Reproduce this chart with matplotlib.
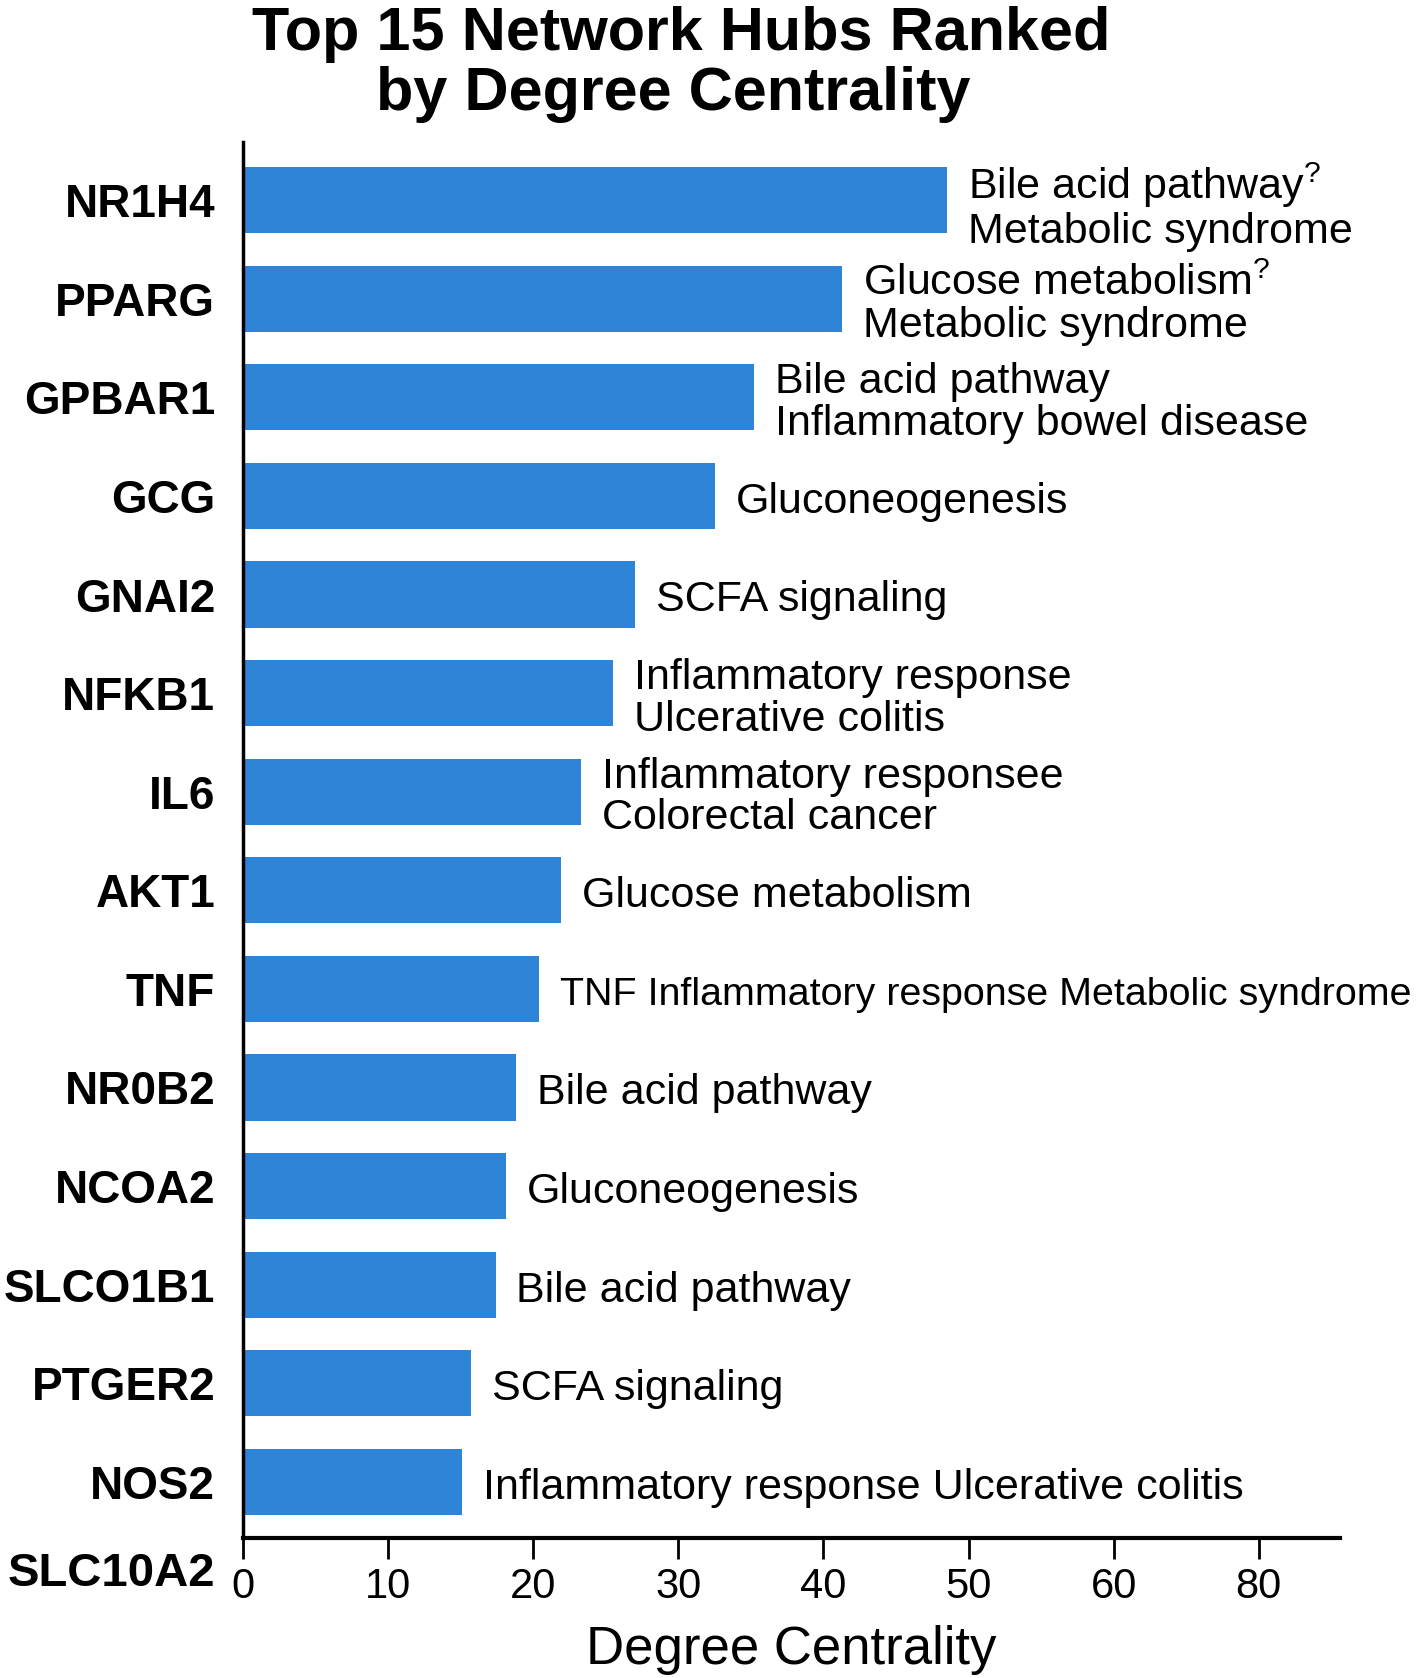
import matplotlib.pyplot as plt
from matplotlib import transforms

plt.rcParams['font.family'] = ['Liberation Sans', 'DejaVu Sans']

genes = ['NR1H4', 'PPARG', 'GPBAR1', 'GCG', 'GNAI2', 'NFKB1', 'IL6', 'AKT1',
         'TNF', 'NR0B2', 'NCOA2', 'SLCO1B1', 'PTGER2', 'NOS2', 'SLC10A2']
degree = [48.5, 41.3, 35.2, 32.5, 27.0, 25.5, 23.3, 21.9,
          20.4, 18.8, 18.1, 17.4, 15.7, 15.1]
notes = ['Bile acid pathway$^{\\mathregular{?}}$\nMetabolic syndrome',
         'Glucose metabolism$^{\\mathregular{?}}$\nMetabolic syndrome',
         'Bile acid pathway\nInflammatory bowel disease',
         'Gluconeogenesis',
         'SCFA signaling',
         'Inflammatory response\nUlcerative colitis',
         'Inflammatory responsee\nColorectal cancer',
         'Glucose metabolism',
         'TNF Inflammatory response Metabolic syndrome',
         'Bile acid pathway',
         'Gluconeogenesis',
         'Bile acid pathway',
         'SCFA signaling',
         'Inflammatory response Ulcerative colitis']
tick_pos = [0, 10, 20, 30, 40, 50, 60, 70]
tick_lab = ['0', '10', '20', '30', '40', '50', '60', '80']

fig = plt.figure(figsize=(14.17, 16.78), dpi=100)
ax = fig.add_axes([0.1715, 0.0834, 0.7742, 0.832])

ypos = list(range(len(degree)))
ax.barh(ypos, degree, height=0.67, color='#2e84d6')

for y, v, t in zip(ypos, degree, notes):
    fs = 28.4 if t.startswith('TNF') else 31
    ax.annotate(t, (v, y + 0.06), xytext=(15, 0), textcoords='offset points',
                va='center', ha='left', fontsize=fs, linespacing=1.05,
                annotation_clip=False)

ax.set_yticks(ypos)
ax.set_yticklabels(genes[:-1], fontsize=33, fontweight='bold')
ax.tick_params(axis='y', length=0, pad=20)
# last gene sits on the row of the x tick labels, without a bar
trans = transforms.blended_transform_factory(ax.transAxes, ax.transData)
ax.text(-0.025, 13.93, genes[-1], transform=trans, ha='right', va='center',
        fontsize=34, fontweight='bold')

ax.set_xticks(tick_pos)
ax.set_xticklabels(tick_lab, fontsize=30)
ax.tick_params(axis='x', length=15, width=2, pad=6)
ax.set_xlim(0, 75.6)
ax.set_ylim(13.57, -0.59)

for s in ['top', 'right']:
    ax.spines[s].set_visible(False)
ax.spines['left'].set_linewidth(2.5)
ax.spines['bottom'].set_linewidth(3)

ax.set_xlabel('Degree Centrality', fontsize=38, labelpad=13)

fig.text(0.481, 0.9795, 'Top 15 Network Hubs Ranked',
         ha='center', va='center', fontsize=44, fontweight='bold')
fig.text(0.475, 0.9435, 'by Degree Centrality',
         ha='center', va='center', fontsize=44, fontweight='bold')

fig.savefig('out.png', dpi=100)
